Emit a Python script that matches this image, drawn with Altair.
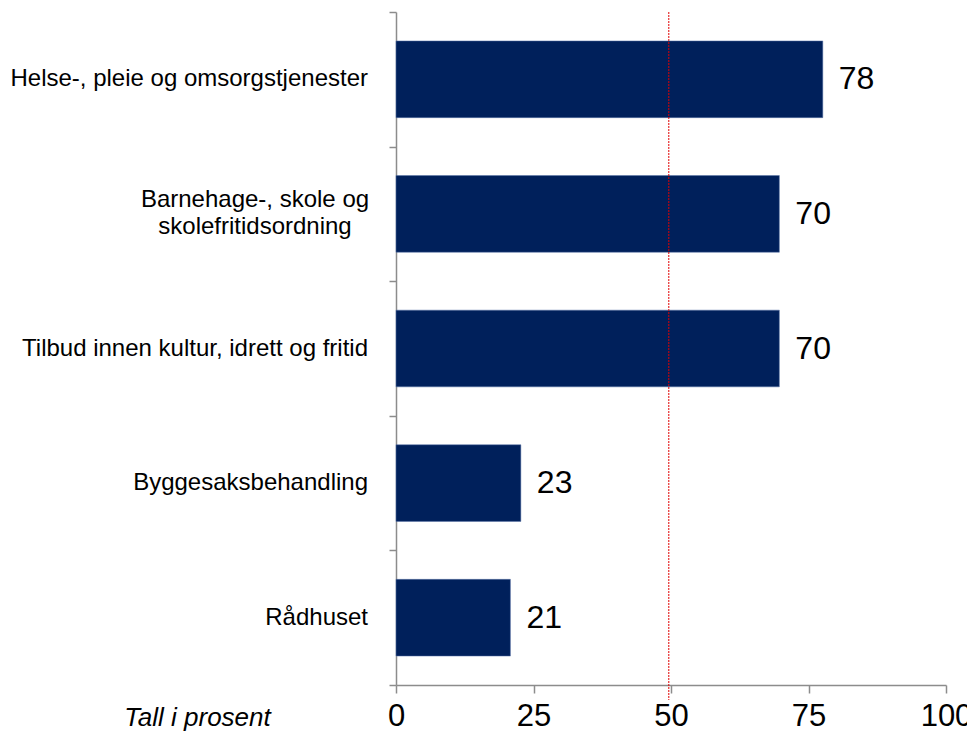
import altair as alt
import pandas as pd

categories = [
    "Helse-, pleie og omsorgstjenester",
    "Barnehage-, skole og\nskolefritidsordning",
    "Tilbud innen kultur, idrett og fritid",
    "Byggesaksbehandling",
    "Rådhuset",
]
values = [77.6, 69.7, 69.7, 22.7, 20.8]
reference_value = 49.6
x_ticks = [0, 25, 50, 75, 100]

df = pd.DataFrame({"kategori": categories, "verdi": values})
df["label"] = df["verdi"].round(0).astype(int).astype(str)
df["multiline"] = df["kategori"].str.contains("\n")

FONT = "Liberation Sans"
NAVY = "#00205b"
GREY = "#8c8c8c"

y_enc = alt.Y(
    "kategori:N",
    sort=categories,
    scale=alt.Scale(paddingInner=0, paddingOuter=0),
    axis=alt.Axis(
        title=None,
        labels=False,
        domainColor=GREY,
        domainWidth=1.5,
        tickColor=GREY,
        tickWidth=1.5,
        tickSize=7,
        tickBand="extent",
        grid=False,
    ),
)

x_enc = alt.X(
    "verdi:Q",
    scale=alt.Scale(domain=[0, 100], nice=False),
    axis=alt.Axis(
        values=x_ticks,
        title="Tall i prosent",
        titleFont=FONT,
        titleFontSize=26,
        titleFontStyle="italic",
        titleFontWeight="normal",
        titleColor="black",
        titleX=-199,
        titleY=40,
        titleAlign="center",
        titleBaseline="alphabetic",
        labelFont=FONT,
        labelFontSize=31,
        labelColor="black",
        labelPadding=8,
        labelFlush=False,
        domainColor=GREY,
        domainWidth=1.5,
        tickColor=GREY,
        tickWidth=1.5,
        tickSize=8,
        grid=False,
    ),
)

base = alt.Chart(df)

bars = base.mark_bar(
    color=NAVY, stroke="#5a74a8", strokeWidth=0.5,
    height=alt.RelativeBandSize(0.57),
).encode(x=x_enc, y=y_enc)

value_labels = base.mark_text(
    align="left", baseline="middle", dx=16, font=FONT, fontSize=32, color="black"
).encode(x="verdi:Q", y=alt.Y("kategori:N", sort=categories), text="label:N")

cat_single = base.transform_filter("!datum.multiline").mark_text(
    align="right", baseline="middle", font=FONT, fontSize=24, color="black"
).encode(x=alt.value(-28), y=alt.Y("kategori:N", sort=categories), text="kategori:N")

cat_multi = base.transform_filter("datum.multiline").mark_text(
    align="center", baseline="middle", font=FONT, fontSize=24, color="black",
    lineBreak="\n", lineHeight=27, dy=-13.5,
).encode(x=alt.value(-141), y=alt.Y("kategori:N", sort=categories), text="kategori:N")

ref_df = pd.DataFrame({"ref": [reference_value]})
ref_line = alt.Chart(ref_df).mark_rule(
    color="#e00000", strokeWidth=1, strokeDash=[2, 1]
).encode(x="ref:Q", y=alt.value(0), y2=alt.value(688))

chart = (
    alt.layer(bars, ref_line, value_labels, cat_single, cat_multi)
    .properties(
        width=550,
        height=673,
        autosize=alt.AutoSizeParams(type="none"),
        padding={"left": 388, "top": 4, "right": 21, "bottom": 46},
    )
    .configure_view(stroke=None)
)

chart.save("out.html", embed_options={"renderer": "svg", "actions": False})
